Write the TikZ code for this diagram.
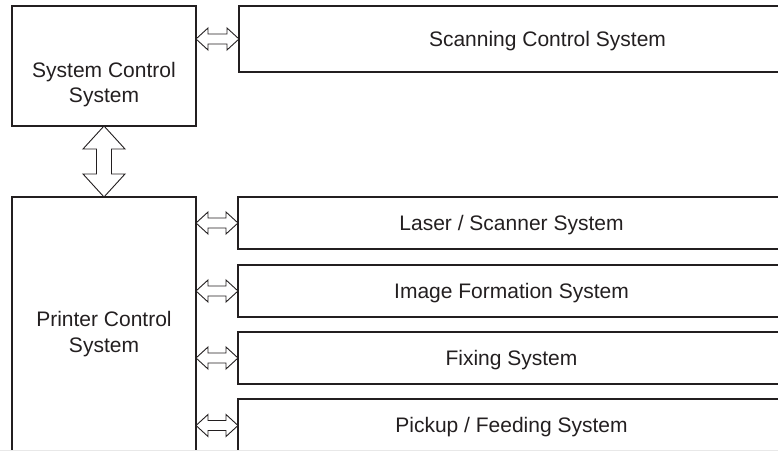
\documentclass[tikz,border=0pt]{standalone}
\usepackage{fontspec}
\setmainfont{Liberation Sans}
\usetikzlibrary{calc}
\definecolor{ink}{HTML}{231F20}
\newcommand{\hdarrow}[2]{%
  \draw[arr] (#1) -- ++(12,11) -- ++(0,-6) -- ($(#2)+(-12,5)$) -- ++(0,6) -- (#2)
    -- ++(-12,-11) -- ++(0,6) -- ($(#1)+(12,-5)$) -- ++(0,-6) -- cycle;}
\newcommand{\vdarrow}[2]{%
  \draw[arr] (#1) -- ++(-21,-23) -- ++(13.5,0) -- ($(#2)+(-7.5,23)$) -- ++(-13.5,0) -- (#2)
    -- ++(21,23) -- ++(-13.5,0) -- ($(#1)+(7.5,-23)$) -- ++(13.5,0) -- cycle;}
\begin{document}
\begin{tikzpicture}[x=1bp,y=1bp,
  frame/.style={draw=ink, line width=1.8bp, inner sep=0pt, outer sep=0pt, text=ink,
    font=\fontsize{21bp}{25.4bp}\selectfont},
  onebox/.style={frame, text height=15bp, text depth=0bp},
  arr/.style={draw=ink, line width=0.9bp, fill=white, line join=miter},
  lbl/.style={inner sep=0pt, text=ink, align=center, font=\fontsize{21bp}{25.4bp}\selectfont}]
\useasboundingbox (0,0) rectangle (778,451);
\clip (0,0) rectangle (778,451);
% left column
\node[frame, minimum width=184bp, minimum height=120bp] (sc) at (104,385) {};
\node[lbl] (sclabel) at (104,366.5) {System Control\\System};
\node[frame, align=center, minimum width=184bp, minimum height=274bp] (pc) at (104,117)
  {Printer Control\\System};
% right column
\node[onebox, minimum width=617bp, minimum height=66bp] (scan) at (547.5,412) {Scanning Control System};
\node[onebox, minimum width=547bp, minimum height=52bp] (laser) at (511.5,228) {Laser / Scanner System};
\node[onebox, minimum width=547bp, minimum height=52bp] (image) at (511.5,160) {Image Formation System};
\node[onebox, minimum width=547bp, minimum height=52bp] (fix) at (511.5,93) {Fixing System};
\node[onebox, minimum width=547bp, minimum height=53bp] (pick) at (511.5,25.5) {Pickup / Feeding System};
% connectors
\hdarrow{sc.east |- scan.west}{scan.west}
\hdarrow{pc.east |- laser.west}{laser.west}
\hdarrow{pc.east |- image.west}{image.west}
\hdarrow{pc.east |- fix.west}{fix.west}
\hdarrow{pc.east |- pick.west}{pick.west}
\vdarrow{sc.south}{pc.north}
% faint scan edge at the bottom
\draw[gray!18, line width=0.8bp] (0,0.6) -- (778,0.6);
\end{tikzpicture}
\end{document}
